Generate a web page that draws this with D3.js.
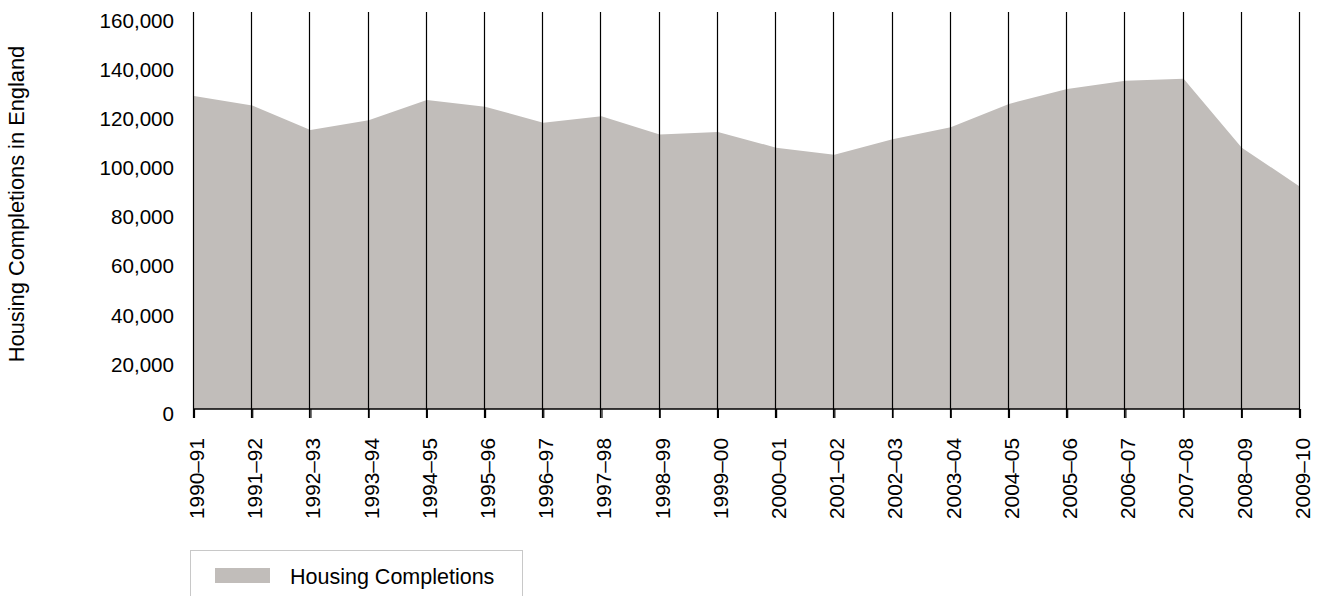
<!DOCTYPE html>
<html><head><meta charset="utf-8">
<script src="https://cdn.jsdelivr.net/npm/d3@7"></script>
<style>
html,body{margin:0;padding:0;background:#fff;}
svg{display:block;font-family:"Liberation Sans",Arial,Helvetica,sans-serif;}
</style></head>
<body>
<script>
const categories = ["1990–91","1991–92","1992–93","1993–94","1994–95","1995–96","1996–97","1997–98","1998–99","1999–00","2000–01","2001–02","2002–03","2003–04","2004–05","2005–06","2006–07","2007–08","2008–09","2009–10"];
const completions = [127400,123600,113600,117600,125800,123100,116500,119200,111800,112800,106400,103500,109800,114700,124200,130300,133600,134500,106400,90500];
const yTicks = [0,20000,40000,60000,80000,100000,120000,140000,160000];
const seriesName = "Housing Completions";
const yTitle = "Housing Completions in England";

const W = 1321, H = 596;
const svg = d3.select("body").append("svg").attr("width", W).attr("height", H);

const x = d3.scalePoint().domain(categories).range([194, 1300]);
const y = d3.scaleLinear().domain([0, 160000]).range([409, 16]);

const fill = "#c1bdba";

// area
const area = d3.area()
  .x(d => x(d.c))
  .y0(y(0))
  .y1(d => y(d.v));
const data = categories.map((c, i) => ({c, v: completions[i]}));
svg.append("path").datum(data).attr("d", area).attr("fill", fill);

// vertical grid lines
svg.append("g").selectAll("line").data(categories).join("line")
  .attr("x1", d => Math.round(x(d)) - 0.5).attr("x2", d => Math.round(x(d)) - 0.5)
  .attr("y1", 12).attr("y2", 418)
  .attr("stroke", "#000").attr("stroke-width", 1.2);

// x axis
const xAxis = d3.axisBottom(x).tickSize(9).tickPadding(0);
const gx = svg.append("g").attr("transform", `translate(0,${y(0)})`).call(xAxis);
gx.select(".domain").attr("stroke", "#000").attr("stroke-width", 1.4).attr("d", `M${x(categories[0])-0.5},0H${x(categories[categories.length-1])}`);
gx.selectAll(".tick line").attr("stroke", "#000").attr("stroke-width", 1.2);
gx.selectAll(".tick text")
  .attr("font-size", 20.8).attr("fill", "#000")
  .attr("text-anchor", "end")
  .attr("transform", "rotate(-90)")
  .attr("x", -29).attr("y", 0).attr("dy", "0.45em");

// y axis labels
const yAxis = d3.axisLeft(y).tickValues(yTicks).tickFormat(d3.format(",")).tickSize(0).tickPadding(20);
const gy = svg.append("g").attr("transform", `translate(194,0)`).call(yAxis);
gy.select(".domain").remove();
gy.selectAll(".tick text").attr("font-size", 20.6).attr("fill", "#000").attr("dy", "0.55em");

// y title
svg.append("text")
  .attr("transform", `translate(24,204) rotate(-90)`)
  .attr("text-anchor", "middle")
  .attr("font-size", 21.8).attr("fill", "#000")
  .text(yTitle);

// legend
const lg = svg.append("g");
lg.append("rect").attr("x", 190.5).attr("y", 550.5).attr("width", 332).attr("height", 60)
  .attr("fill", "#fff").attr("stroke", "#c8c8c8").attr("stroke-width", 1);
lg.append("rect").attr("x", 215).attr("y", 568).attr("width", 55).attr("height", 15).attr("fill", fill);
lg.append("text").attr("x", 290).attr("y", 576).attr("dy", "0.35em")
  .attr("font-size", 21.5).attr("fill", "#000").text(seriesName);
</script>
</body></html>
